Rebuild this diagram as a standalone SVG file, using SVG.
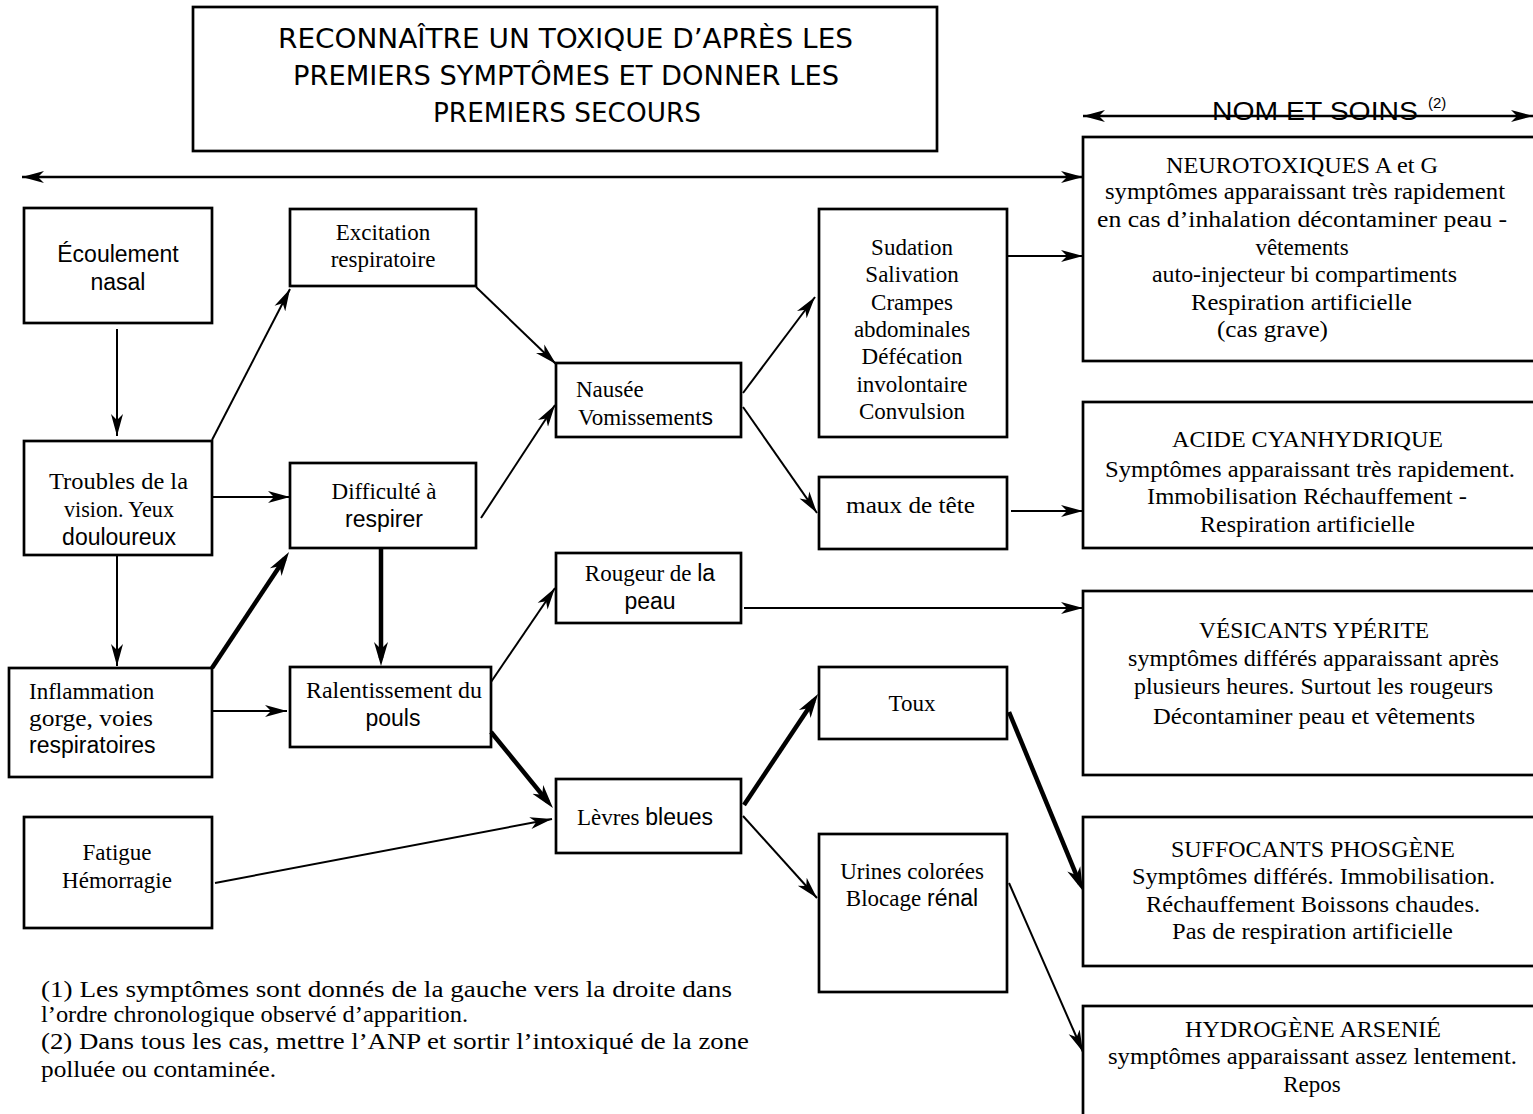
<svg xmlns="http://www.w3.org/2000/svg" width="1533" height="1114" viewBox="0 0 1533 1114">
  <style>
    .box { fill: #fff; stroke: #000; stroke-width: 2.7; }
    .serif { font-family: "Liberation Serif", "Times New Roman", serif; font-size: 23px; fill: #000; }
    .sans { font-family: "Liberation Sans", Arial, sans-serif; font-size: 23px; fill: #000; }
    .title { font-family: "DejaVu Sans", "Liberation Sans", sans-serif; font-size: 27px; fill: #000; }
    .note { font-family: "Liberation Serif", "Times New Roman", serif; font-size: 23px; fill: #000; }
    .mid { text-anchor: middle; }
    .thin { fill: none; stroke: #000; stroke-width: 2; marker-end: url(#ah); }
    .thick { fill: none; stroke: #000; stroke-width: 4.5; marker-end: url(#ahT); }
    .span { fill: none; stroke: #000; stroke-width: 2.6; marker-start: url(#ah); marker-end: url(#ah); }
  </style>
  <defs>
    <marker id="ah" markerUnits="userSpaceOnUse" markerWidth="24" markerHeight="14" refX="22" refY="7" orient="auto-start-reverse">
      <path d="M0,1 L22,7 L0,13 L6,7 Z" fill="#000"/>
    </marker>
    <marker id="ahT" markerUnits="userSpaceOnUse" markerWidth="26" markerHeight="16" refX="16" refY="8" orient="auto">
      <path d="M0,1 L24,8 L0,15 L7,8 Z" fill="#000"/>
    </marker>
  </defs>

  <rect width="1533" height="1114" fill="#fff"/>

  <!-- title -->
  <g id="title">
    <rect class="box" x="193" y="7" width="744" height="144"/>
    <text class="title" x="278" y="48" textLength="575" lengthAdjust="spacingAndGlyphs">RECONNAÎTRE UN TOXIQUE D’APRÈS LES</text>
    <text class="title" x="293" y="85" textLength="546" lengthAdjust="spacingAndGlyphs">PREMIERS SYMPTÔMES ET DONNER LES</text>
    <text class="title" x="433" y="122" textLength="268" lengthAdjust="spacingAndGlyphs">PREMIERS SECOURS</text>
  </g>

  <!-- column header -->
  <g id="header-nom">
    <text class="sans" x="1212" y="120" textLength="206" lengthAdjust="spacingAndGlyphs" style="font-size:26px">NOM ET SOINS</text>
    <text class="sans" x="1428" y="108" style="font-size:15px">(2)</text>
  </g>

  <!-- left column -->
  <g id="n-ecoulement">
    <rect class="box" x="24" y="208" width="188" height="115"/>
    <text class="sans mid" x="118" y="262">Écoulement</text>
    <text class="sans mid" x="118" y="290">nasal</text>
  </g>
  <g id="n-troubles">
    <rect class="box" x="24" y="441" width="188" height="114"/>
    <text class="serif" x="49" y="489" textLength="139" lengthAdjust="spacingAndGlyphs">Troubles de la</text>
    <text class="serif" x="64" y="517" textLength="110" lengthAdjust="spacingAndGlyphs">vision. Yeux</text>
    <text class="sans mid" x="119" y="545">douloureux</text>
  </g>
  <g id="n-inflammation">
    <rect class="box" x="9" y="668" width="203" height="109"/>
    <text class="serif" x="29" y="699">Inflammation</text>
    <text class="serif" x="29" y="726" textLength="124" lengthAdjust="spacingAndGlyphs">gorge, voies</text>
    <text class="sans" x="29" y="753">respiratoires</text>
  </g>
  <g id="n-fatigue">
    <rect class="box" x="24" y="817" width="188" height="111"/>
    <text class="serif mid" x="117" y="860">Fatigue</text>
    <text class="serif mid" x="117" y="888">Hémorragie</text>
  </g>

  <!-- second column -->
  <g id="n-excitation">
    <rect class="box" x="290" y="209" width="186" height="77"/>
    <text class="serif mid" x="383" y="240">Excitation</text>
    <text class="serif mid" x="383" y="267">respiratoire</text>
  </g>
  <g id="n-difficulte">
    <rect class="box" x="290" y="463" width="186" height="85"/>
    <text class="serif mid" x="384" y="499">Difficulté à</text>
    <text class="sans mid" x="384" y="527">respirer</text>
  </g>
  <g id="n-ralentissement">
    <rect class="box" x="290" y="667" width="201" height="80"/>
    <text class="serif" x="306" y="698" textLength="176" lengthAdjust="spacingAndGlyphs">Ralentissement du</text>
    <text class="sans mid" x="393" y="726">pouls</text>
  </g>

  <!-- third column -->
  <g id="n-nausee">
    <rect class="box" x="556" y="363" width="185" height="74"/>
    <text class="serif" x="576" y="397">Nausée</text>
    <text class="serif" x="578" y="425">Vomissement<tspan class="sans">s</tspan></text>
  </g>
  <g id="n-rougeur">
    <rect class="box" x="556" y="553" width="185" height="70"/>
    <text class="serif mid" x="650" y="581">Rougeur  de <tspan class="sans">la</tspan></text>
    <text class="sans mid" x="650" y="609">peau</text>
  </g>
  <g id="n-levres">
    <rect class="box" x="556" y="779" width="185" height="74"/>
    <text class="serif mid" x="645" y="825">Lèvres <tspan class="sans">bleues</tspan></text>
  </g>

  <!-- fourth column -->
  <g id="n-sudation">
    <rect class="box" x="819" y="209" width="188" height="228"/>
    <text class="serif mid" x="912" y="255">Sudation</text>
    <text class="serif mid" x="912" y="282">Salivation</text>
    <text class="serif mid" x="912" y="310">Crampes</text>
    <text class="serif mid" x="912" y="337">abdominales</text>
    <text class="serif mid" x="912" y="364">Défécation</text>
    <text class="serif mid" x="912" y="392">involontaire</text>
    <text class="serif mid" x="912" y="419">Convulsion</text>
  </g>
  <g id="n-maux">
    <rect class="box" x="819" y="477" width="188" height="72"/>
    <text class="serif" x="846" y="513" textLength="129" lengthAdjust="spacingAndGlyphs">maux de tête</text>
  </g>
  <g id="n-toux">
    <rect class="box" x="819" y="667" width="188" height="72"/>
    <text class="serif mid" x="912" y="711">Toux</text>
  </g>
  <g id="n-urines">
    <rect class="box" x="819" y="834" width="188" height="158"/>
    <text class="serif mid" x="912" y="879">Urines colorées</text>
    <text class="serif mid" x="912" y="906">Blocage <tspan class="sans">rénal</tspan></text>
  </g>

  <!-- agents and care -->
  <g id="n-neurotoxiques">
    <rect class="box" x="1083" y="137" width="470" height="224"/>
    <text class="serif" x="1166" y="173" textLength="272" lengthAdjust="spacingAndGlyphs">NEUROTOXIQUES A et G</text>
    <text class="serif" x="1105" y="199" textLength="400" lengthAdjust="spacingAndGlyphs">symptômes  apparaissant  très rapidement</text>
    <text class="serif" x="1097" y="227" textLength="410" lengthAdjust="spacingAndGlyphs">en cas d’inhalation décontaminer peau -</text>
    <text class="serif mid" x="1302" y="255">vêtements</text>
    <text class="serif" x="1152" y="282" textLength="305" lengthAdjust="spacingAndGlyphs">auto-injecteur bi compartiments</text>
    <text class="serif" x="1191" y="310" textLength="221" lengthAdjust="spacingAndGlyphs">Respiration artificielle</text>
    <text class="serif" x="1217" y="337" textLength="111" lengthAdjust="spacingAndGlyphs">(cas grave)</text>
  </g>
  <g id="n-acide">
    <rect class="box" x="1083" y="402" width="470" height="146"/>
    <text class="serif" x="1172" y="447" textLength="271" lengthAdjust="spacingAndGlyphs">ACIDE CYANHYDRIQUE</text>
    <text class="serif" x="1105" y="477" textLength="410" lengthAdjust="spacingAndGlyphs">Symptômes apparaissant très rapidement.</text>
    <text class="serif" x="1147" y="504" textLength="320" lengthAdjust="spacingAndGlyphs">Immobilisation Réchauffement -</text>
    <text class="serif" x="1200" y="532" textLength="215" lengthAdjust="spacingAndGlyphs">Respiration artificielle</text>
  </g>
  <g id="n-vesicants">
    <rect class="box" x="1083" y="591" width="470" height="184"/>
    <text class="serif" x="1199" y="638" textLength="230" lengthAdjust="spacingAndGlyphs">VÉSICANTS YPÉRITE</text>
    <text class="serif" x="1128" y="666" textLength="371" lengthAdjust="spacingAndGlyphs">symptômes différés apparaissant après</text>
    <text class="serif" x="1134" y="694" textLength="359" lengthAdjust="spacingAndGlyphs">plusieurs heures. Surtout les rougeurs</text>
    <text class="serif" x="1153" y="724" textLength="322" lengthAdjust="spacingAndGlyphs">Décontaminer peau et vêtements</text>
  </g>
  <g id="n-suffocants">
    <rect class="box" x="1083" y="817" width="470" height="149"/>
    <text class="serif" x="1171" y="857" textLength="284" lengthAdjust="spacingAndGlyphs">SUFFOCANTS PHOSGÈNE</text>
    <text class="serif" x="1132" y="884" textLength="363" lengthAdjust="spacingAndGlyphs">Symptômes différés. Immobilisation.</text>
    <text class="serif" x="1146" y="912" textLength="334" lengthAdjust="spacingAndGlyphs">Réchauffement Boissons chaudes.</text>
    <text class="serif" x="1172" y="939" textLength="281" lengthAdjust="spacingAndGlyphs">Pas de respiration artificielle</text>
  </g>
  <g id="n-hydrogene">
    <rect class="box" x="1083" y="1006" width="470" height="130"/>
    <text class="serif" x="1185" y="1037" textLength="256" lengthAdjust="spacingAndGlyphs">HYDROGÈNE ARSENIÉ</text>
    <text class="serif" x="1108" y="1064" textLength="409" lengthAdjust="spacingAndGlyphs">symptômes apparaissant assez lentement.</text>
    <text class="serif mid" x="1312" y="1092">Repos</text>
  </g>

  <!-- footnotes -->
  <g id="notes">
    <text class="note" x="41" y="997" textLength="691" lengthAdjust="spacingAndGlyphs">(1) Les symptômes sont donnés de la gauche vers la droite dans</text>
    <text class="note" x="41" y="1022" textLength="427" lengthAdjust="spacingAndGlyphs">l’ordre chronologique observé d’apparition.</text>
    <text class="note" x="41" y="1049" textLength="708" lengthAdjust="spacingAndGlyphs">(2) Dans tous les cas, mettre l’ANP et sortir l’intoxiqué de la zone</text>
    <text class="note" x="41" y="1077" textLength="235" lengthAdjust="spacingAndGlyphs">polluée ou contaminée.</text>
  </g>

  <!-- connectors -->
  <g id="connectors">
    <!-- timeline spans -->
    <line class="span" x1="22" y1="177" x2="1083" y2="177"/>
    <line class="span" x1="1083" y1="116" x2="1533" y2="116"/>

    <!-- thin arrows -->
    <line class="thin" x1="117" y1="329" x2="117" y2="436"/>
    <line class="thin" x1="212" y1="440" x2="290" y2="289"/>
    <line class="thin" x1="212" y1="497" x2="290" y2="497"/>
    <line class="thin" x1="117" y1="555" x2="117" y2="666"/>
    <line class="thin" x1="212" y1="711" x2="287" y2="711"/>
    <line class="thin" x1="476" y1="287" x2="556" y2="364"/>
    <line class="thin" x1="481" y1="518" x2="555" y2="405"/>
    <line class="thin" x1="743" y1="393" x2="815" y2="297"/>
    <line class="thin" x1="743" y1="407" x2="817" y2="513"/>
    <line class="thin" x1="1007" y1="256" x2="1083" y2="256"/>
    <line class="thin" x1="1011" y1="511" x2="1083" y2="511"/>
    <line class="thin" x1="491" y1="682" x2="555" y2="588"/>
    <line class="thin" x1="744" y1="608" x2="1083" y2="608"/>
    <line class="thin" x1="215" y1="883" x2="552" y2="819"/>
    <line class="thin" x1="743" y1="816" x2="817" y2="898"/>
    <line class="thin" x1="1009" y1="883" x2="1083" y2="1052"/>

    <!-- thick arrows -->
    <line class="thick" x1="212" y1="668" x2="284.6" y2="558.7"/>
    <line class="thick" x1="381" y1="548" x2="381" y2="658"/>
    <line class="thick" x1="491" y1="732" x2="547.9" y2="801.8"/>
    <line class="thick" x1="744" y1="805" x2="813.6" y2="700.7"/>
    <line class="thick" x1="1009" y1="712" x2="1079.9" y2="883.6"/>
  </g>
</svg>
